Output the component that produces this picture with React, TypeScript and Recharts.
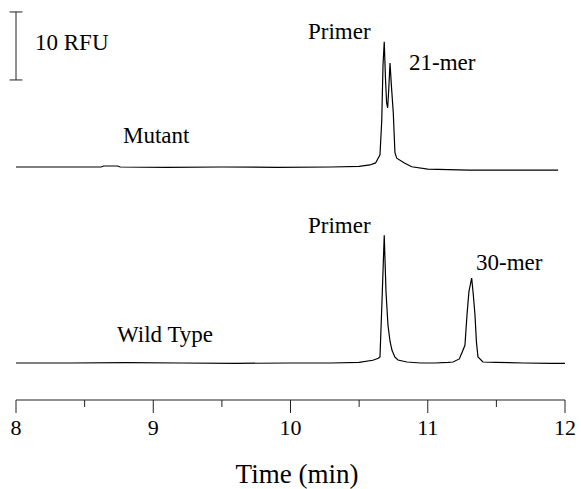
import React from "react";
import { LineChart, Line, XAxis, YAxis, ReferenceLine } from "recharts";

// electropherogram traces, time in min, signal in RFU above each baseline
const mutantTime = [
  8.0, 8.3, 8.62, 8.64, 8.74, 8.76, 9.1, 9.5, 9.9, 10.3, 10.5, 10.579, 10.62,
  10.652, 10.665, 10.674, 10.683, 10.692, 10.7, 10.708, 10.716, 10.725, 10.735,
  10.749, 10.761, 10.774, 10.83, 10.883, 11.0, 11.3, 11.6, 11.95,
];
const mutantRfu = [
  0, 0, 0, 0.15, 0.15, 0, -0.05, 0, -0.05, 0, 0.1, 0.3, 0.6, 1.8, 6.9, 15.0,
  18.4, 13.0, 9.5, 8.7, 11.5, 15.3, 12.0, 7.9, 2.1, 1.3, 0.6, 0.04, -0.3, -0.45,
  -0.45, -0.45,
];

const wildTime = [
  8.0, 8.4, 8.8, 9.2, 9.6, 10.0, 10.3, 10.5, 10.6, 10.64, 10.652, 10.667,
  10.683, 10.696, 10.71, 10.725, 10.739, 10.76, 10.783, 10.849, 10.95, 11.05,
  11.15, 11.184, 11.23, 11.249, 11.271, 11.286, 11.3, 11.32, 11.332, 11.344,
  11.355, 11.366, 11.402, 11.5, 11.7, 11.9, 12.0,
];
const wildRfu = [
  0, 0, 0.05, 0, -0.05, 0, 0, 0.1, 0.4, 0.7, 0.9, 9.3, 18.8, 10.4, 5.6, 3.2,
  1.9, 0.9, 0.44, 0.15, 0, 0, 0.1, 0.15, 0.6, 1.5, 2.6, 7.1, 10.5, 12.5, 10.0,
  7.1, 3.0, 0.9, 0.15, 0.1, 0, -0.05, -0.05,
];

const timeTicks = [8, 8.5, 9, 9.5, 10, 10.5, 11, 11.5, 12];
const scaleBar = [12.8, 22.8]; // 10 RFU, on the mutant axis

const mutantData = mutantTime.map((t, i) => ({ t, v: mutantRfu[i] }));
const wildData = wildTime.map((t, i) => ({ t, v: wildRfu[i] }));

const font = "Liberation Serif, DejaVu Serif, serif";

const TimeTick = (props: any) => {
  const { x, y, payload } = props;
  const major = Number.isInteger(payload.value);
  return (
    <g>
      <line x1={x} y1={y} x2={x} y2={y + (major ? 13 : 7)} stroke="#222" strokeWidth={1} />
      {major && (
        <text x={x} y={y + 35} textAnchor="middle" style={{ fontFamily: font, fontSize: 22 }} fill="#000">
          {payload.value}
        </text>
      )}
    </g>
  );
};

const Label = ({ x, y, children, size = 23, anchor = "start" }: any) => (
  <text x={x} y={y} style={{ fontFamily: font, fontSize: size }} fill="#000" textAnchor={anchor}>
    {children}
  </text>
);

export default function App() {
  return (
    <div style={{ position: "absolute", left: 0, top: 0, background: "#fff" }}>
      <LineChart
        width={581}
        height={489}
        margin={{ top: 10, right: 16, bottom: 0, left: 16 }}
      >
        <XAxis
          dataKey="t"
          type="number"
          domain={[8, 12]}
          ticks={timeTicks}
          interval={0}
          allowDataOverflow
          height={89}
          tickSize={0}
          tickMargin={0}
          tick={<TimeTick />}
          stroke="#222"
        />
        <YAxis yAxisId="mut" type="number" domain={[-34.265, 23.088]} hide allowDataOverflow />
        <YAxis yAxisId="wt" type="number" domain={[-5.441, 51.912]} hide allowDataOverflow />
        <ReferenceLine
          yAxisId="mut"
          segment={[{ x: 8, y: scaleBar[0] }, { x: 8, y: scaleBar[1] }]}
          stroke="#222"
          ifOverflow="visible"
        />
        <ReferenceLine
          yAxisId="mut"
          segment={[{ x: 7.953, y: scaleBar[0] }, { x: 8.047, y: scaleBar[0] }]}
          stroke="#222"
          ifOverflow="visible"
        />
        <ReferenceLine
          yAxisId="mut"
          segment={[{ x: 7.953, y: scaleBar[1] }, { x: 8.047, y: scaleBar[1] }]}
          stroke="#222"
          ifOverflow="visible"
        />
        <Line
          yAxisId="mut"
          data={mutantData}
          dataKey="v"
          type="linear"
          stroke="#000"
          strokeWidth={1.2}
          dot={false}
          isAnimationActive={false}
        />
        <Line
          yAxisId="wt"
          data={wildData}
          dataKey="v"
          type="linear"
          stroke="#000"
          strokeWidth={1.2}
          dot={false}
          isAnimationActive={false}
        />
        <Label x={35} y={50}>10 RFU</Label>
        <Label x={308} y={39}>Primer</Label>
        <Label x={409} y={70}>21-mer</Label>
        <Label x={123} y={143}>Mutant</Label>
        <Label x={308} y={233}>Primer</Label>
        <Label x={476} y={270}>30-mer</Label>
        <Label x={117} y={342}>Wild Type</Label>
        <Label x={297} y={483} size={27} anchor="middle">Time (min)</Label>
      </LineChart>
    </div>
  );
}
